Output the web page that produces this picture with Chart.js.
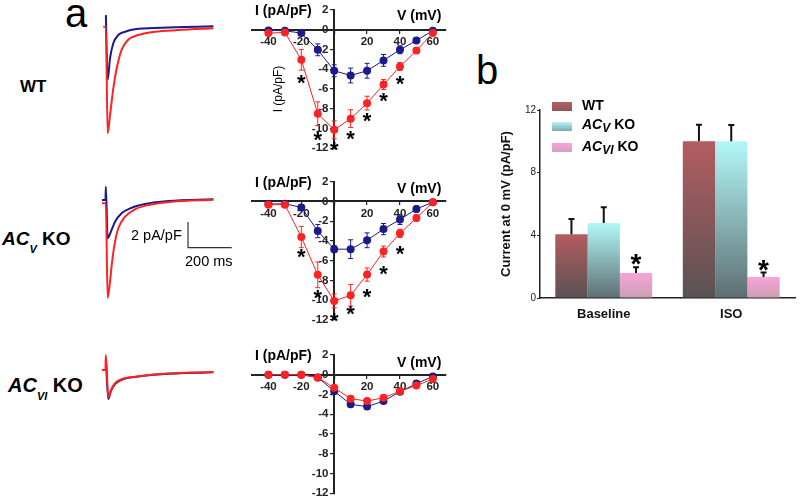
<!DOCTYPE html>
<html><head><meta charset="utf-8">
<script src="https://cdn.jsdelivr.net/npm/chart.js@4.4.1/dist/chart.umd.min.js"></script>
<style>
html,body{margin:0;padding:0;background:#fff;}
#root{position:relative;width:800px;height:502px;overflow:hidden;background:#fff;font-family:'Liberation Sans',Arial,sans-serif;color:#000;}
canvas{position:absolute;}
.t{position:absolute;white-space:nowrap;line-height:1;}
.b{font-weight:bold;}
.sub{position:relative;}
.sw{position:absolute;width:20px;height:9px;}
</style>
</head><body><div id="root">
<canvas id="trWT" style="left:95px;top:5px" width="145" height="140"></canvas>
<canvas id="trACV" style="left:95px;top:180px" width="145" height="125"></canvas>
<canvas id="trACVI" style="left:95px;top:345px" width="125" height="65"></canvas>
<canvas id="iv1" style="left:240px;top:0px" width="210" height="165"></canvas>
<canvas id="iv2" style="left:240px;top:170px" width="210" height="165"></canvas>
<canvas id="iv3" style="left:240px;top:343px" width="210" height="159"></canvas>
<canvas id="bars" style="left:490px;top:95px" width="310" height="235"></canvas>

<div class="t" style="left:65px;top:-7px;font-size:40px;">a</div>
<div class="t" style="left:476px;top:50px;font-size:40px;">b</div>

<div class="t b" style="left:20px;top:78px;font-size:17px;">WT</div>
<div class="t b" style="left:2px;top:229px;font-size:19px;"><i>AC</i><i class="sub" style="font-size:11px;top:8px;">V</i> KO</div>
<div class="t b" style="left:8px;top:375px;font-size:20px;"><i>AC</i><i class="sub" style="font-size:11px;top:8px;">VI</i> KO</div>

<div class="t" style="left:131px;top:228px;font-size:14.5px;">2 pA/pF</div>
<div class="t" style="left:185px;top:254px;font-size:14.5px;">200 ms</div>

<div class="t b" style="left:255px;top:3px;font-size:14px;">I (pA/pF)</div>
<div class="t b" style="left:397px;top:8px;font-size:14px;">V (mV)</div>
<div class="t" style="left:278px;top:89px;font-size:12px;transform:translate(-50%,-50%) rotate(-90deg);">I (pA/pF)</div>
<div class="t b" style="left:255px;top:175px;font-size:14px;">I (pA/pF)</div>
<div class="t b" style="left:397px;top:181px;font-size:14px;">V (mV)</div>
<div class="t b" style="left:255px;top:348px;font-size:14px;">I (pA/pF)</div>
<div class="t b" style="left:397px;top:355px;font-size:14px;">V (mV)</div>

<div class="sw" style="left:552px;top:102px;background:linear-gradient(#b26064,#8c5658);"></div>
<div class="sw" style="left:552px;top:122px;background:linear-gradient(#b4f6f6,#7fa8ae);"></div>
<div class="sw" style="left:552px;top:143px;background:linear-gradient(#f8a6d8,#d2a2bc);"></div>
<div class="t b" style="left:582px;top:98px;font-size:14px;">WT</div>
<div class="t b" style="left:582px;top:117px;font-size:14px;"><i>AC</i><i class="sub" style="font-size:12px;top:2.5px;">V</i> KO</div>
<div class="t b" style="left:582px;top:139px;font-size:14px;"><i>AC</i><i class="sub" style="font-size:12px;top:2.5px;">VI</i> KO</div>
</div>
<script>
// ---------------- data ----------------
// current traces: [time (ms), current (pA/pF)]
const wtTraceRed   = [[-8,0],[4,0],[12,-8.3],[23,-6.9],[38,-4.8],[54,-3.2],[76,-1.8],[107,-1.0],[152,-0.65],[229,-0.39],[336,-0.26],[496,-0.12]];
const wtTraceBlue  = [[4,0.9],[12,-4.15],[23,-2.46],[38,-1.29],[61,-0.65],[92,-0.39],[137,-0.2],[260,-0.08],[496,0.03]];
const acvTraceRed  = [[-14,-0.12],[4,-0.12],[12,-7.5],[23,-6.2],[31,-4.9],[43,-3.4],[61,-2.07],[92,-1.17],[137,-0.59],[198,-0.26],[305,0],[496,0.16]];
const acvTraceBlue = [[-14,0.13],[2,0.13],[4,1.17],[12,-2.85],[27,-2.33],[46,-1.56],[76,-0.9],[122,-0.47],[183,-0.18],[290,0.05],[496,0.19]];
const acviTraceRed = [[-14,0],[2,0],[4,1.17],[15,-2.12],[27,-1.56],[46,-1.03],[76,-0.72],[137,-0.52],[259,-0.31],[496,-0.16]];
const acviTraceBlue= [[4,0.8],[15,-2.26],[27,-1.65],[46,-1.1],[76,-0.76],[137,-0.54],[259,-0.33],[496,-0.17]];
const scaleBar     = [[380,-1.58],[380,-3.58],[580,-3.58]]; // 2 pA/pF, 200 ms

// I-V curves
const ivV = [-40,-30,-20,-10,0,10,20,30,40,50,60];
const ivXTicks = [-40,-20,0,20,40,60];
const ivYTicks = [2,0,-2,-4,-6,-8,-10,-12];
const wtBlue    = [-0.07,-0.1,-0.34,-2.03,-4.15,-4.63,-4.15,-3.1,-2.03,-1.08,-0.1];
const wtBlueErr = [0.05,0.05,0.2,0.6,0.6,0.75,0.75,0.6,0.4,0.25,0.1];
const wtRed     = [-0.34,-0.27,-3.04,-8.5,-10.13,-9.0,-7.43,-5.54,-3.72,-2.1,-0.34];
const wtRedErr  = [0.1,0.1,1.05,1.2,0.9,0.9,0.7,0.5,0.4,0.3,0.15];
const wtStarV   = [-20,-10,0,10,20,30,40];
const wtStarI   = [-5.07,-10.8,-11.8,-10.74,-8.85,-6.86,-5.17];

const acvBlue    = [-0.27,-0.23,-0.6,-3.0,-4.83,-4.83,-3.93,-2.8,-1.83,-0.77,-0.07];
const acvBlueErr = [0.05,0.05,0.2,0.67,0.35,0.95,0.75,0.57,0.5,0.3,0.1];
const acvRed     = [-0.33,-0.33,-3.6,-7.43,-10.07,-9.5,-7.4,-5.07,-3.23,-1.67,-0.07];
const acvRedErr  = [0.1,0.1,1.08,1.3,0.7,1.1,0.67,0.55,0.42,0.3,0.1];
const acvStarV   = [-20,-10,0,10,20,30,40];
const acvStarI   = [-5.27,-9.4,-11.73,-11.0,-9.27,-7.0,-4.93];

const acviBlue    = [0,0,0,-0.27,-1.67,-3.0,-3.23,-2.67,-1.73,-0.9,-0.17];
const acviBlueErr = [0.05,0.05,0.05,0.1,0.25,0.25,0.25,0.2,0.2,0.15,0.1];
const acviRed     = [0,0,0,-0.27,-1.33,-2.43,-2.67,-2.33,-1.67,-1.1,-0.43];
const acviRedErr  = [0.05,0.05,0.05,0.1,0.2,0.25,0.25,0.2,0.2,0.15,0.1];

// bar chart: current at 0 mV
const barCategories = ['Baseline','ISO'];
const barTicks = [0,4,8,12];
const barWT      = [4.07,10.0];
const barWTErr   = [0.98,1.06];
const barACV     = [4.78,10.0];
const barACVErr  = [1.02,1.05];
const barACVI    = [1.59,1.34];
const barACVIErr = [0.38,0.29];
const barACVIStar= [2.48,2.06];

// ---------------- styles ----------------
const FONT = "'Liberation Sans', Arial, sans-serif";
Chart.defaults.font.family = FONT;
const RED = '#ff2222', BLUE = '#1a1a8c';

function drawAsterisk(ctx, x, y, size) {
  ctx.save();
  ctx.fillStyle = '#000';
  ctx.font = 'bold ' + size + 'px ' + FONT;
  ctx.textAlign = 'center';
  ctx.textBaseline = 'alphabetic';
  const m = ctx.measureText('*');
  ctx.fillText('*', x, y + (m.actualBoundingBoxAscent - m.actualBoundingBoxDescent) / 2);
  ctx.restore();
}

const markPlugin = {
  id: 'marks',
  beforeDatasetsDraw(chart) {
    const ctx = chart.ctx;
    chart.data.datasets.forEach((ds, di) => {
      if (!ds.errSym) return;
      const meta = chart.getDatasetMeta(di);
      const ys = chart.scales[meta.yAxisID];
      ctx.save();
      ctx.strokeStyle = ds.borderColor; ctx.lineWidth = 1;
      meta.data.forEach((el, i) => {
        const v = ds.data[i].y, e = ds.errSym[i];
        if (!e) return;
        const y1 = ys.getPixelForValue(v + e), y2 = ys.getPixelForValue(v - e);
        ctx.beginPath();
        ctx.moveTo(el.x, y1); ctx.lineTo(el.x, y2);
        ctx.moveTo(el.x - 2.5, y1); ctx.lineTo(el.x + 2.5, y1);
        ctx.moveTo(el.x - 2.5, y2); ctx.lineTo(el.x + 2.5, y2);
        ctx.stroke();
      });
      ctx.restore();
    });
  },
  afterDatasetsDraw(chart) {
    const ctx = chart.ctx;
    chart.data.datasets.forEach((ds, di) => {
      const meta = chart.getDatasetMeta(di);
      const ys = chart.scales[meta.yAxisID];
      if (ds.errUp) {
        ctx.save();
        ctx.strokeStyle = '#111'; ctx.lineWidth = 2;
        meta.data.forEach((el, i) => {
          const yTop = ys.getPixelForValue(ds.data[i] + ds.errUp[i]);
          ctx.beginPath();
          ctx.moveTo(el.x, el.y); ctx.lineTo(el.x, yTop);
          ctx.moveTo(el.x - 3, yTop); ctx.lineTo(el.x + 3, yTop);
          ctx.stroke();
        });
        ctx.restore();
      }
      if (ds.stars) {
        meta.data.forEach((el, i) => drawAsterisk(ctx, el.x, ys.getPixelForValue(ds.stars[i]), 28));
      }
      if (ds.asterisk) {
        meta.data.forEach(el => drawAsterisk(ctx, el.x, el.y, 22));
      }
    });
  }
};
Chart.register(markPlugin);

// ---------------- traces ----------------
const MS_PER_PX = 200 / 43.7, PA_PER_PX = 2 / 25.7, T0_PX = 105;
function traceChart(id, zeroY, sets) {
  const el = document.getElementById(id);
  const left = parseFloat(el.style.left), top = parseFloat(el.style.top);
  const w = el.width, h = el.height;
  new Chart(el, {
    type: 'scatter',
    data: { datasets: sets.map(s => ({
      data: s.pts.map(p => ({x: p[0], y: p[1]})),
      showLine: true, pointRadius: 0, borderColor: s.color, borderWidth: s.width,
      cubicInterpolationMode: s.smooth ? 'monotone' : 'default', tension: s.smooth ? 0.4 : 0,
      clip: false
    })) },
    options: {
      responsive: false, animation: false, events: [],
      layout: { padding: 0 },
      plugins: { legend: { display: false }, tooltip: { enabled: false } },
      scales: {
        x: { type: 'linear', display: false, min: (left - T0_PX) * MS_PER_PX, max: (left + w - T0_PX) * MS_PER_PX },
        y: { type: 'linear', display: false, min: -(top + h - zeroY) * PA_PER_PX, max: (zeroY - top) * PA_PER_PX }
      }
    }
  });
}
traceChart('trWT', 26.7, [
  {pts: wtTraceRed, color: RED, width: 2, smooth: true},
  {pts: wtTraceBlue, color: BLUE, width: 2, smooth: true}]);
traceChart('trACV', 201.7, [
  {pts: acvTraceRed, color: RED, width: 2, smooth: true},
  {pts: acvTraceBlue, color: BLUE, width: 2, smooth: true},
  {pts: scaleBar, color: '#333', width: 1.2, smooth: false}]);
traceChart('trACVI', 370, [
  {pts: acviTraceRed, color: RED, width: 2, smooth: true},
  {pts: acviTraceBlue, color: BLUE, width: 2, smooth: true}]);

// ---------------- I-V panels ----------------
function ivChart(id, pad, blue, blueErr, red, redErr, starV, starI) {
  const tickFont = { size: 11.5, weight: 'bold' };
  const datasets = [
    { data: ivV.map((v, i) => ({x: v, y: red[i]})), errSym: redErr, showLine: true,
      borderColor: RED, backgroundColor: RED, borderWidth: 1, pointRadius: 4, pointBorderWidth: 0, clip: false },
    { data: ivV.map((v, i) => ({x: v, y: blue[i]})), errSym: blueErr, showLine: true,
      borderColor: BLUE, backgroundColor: BLUE, borderWidth: 1, pointRadius: 4, pointBorderWidth: 0, clip: false }
  ];
  if (starV) datasets.push({ data: starV.map((v, i) => ({x: v, y: starI[i]})), asterisk: true, pointRadius: 0, showLine: false, clip: false });
  new Chart(document.getElementById(id), {
    type: 'scatter',
    data: { datasets },
    options: {
      responsive: false, animation: false, events: [],
      layout: { padding: pad },
      plugins: { legend: { display: false }, tooltip: { enabled: false } },
      scales: {
        x: { type: 'linear', min: -50, max: 68, position: { y: 0 },
          afterBuildTicks: s => { s.ticks = ivXTicks.map(v => ({value: v})); },
          afterFit: s => { s.height = 0; },
          grid: { display: true, drawOnChartArea: false, drawTicks: true, tickLength: 3, color: '#222', lineWidth: 1.2 },
          border: { display: true, color: '#222', width: 2 },
          ticks: { font: tickFont, color: '#222', padding: 2, maxRotation: 0, autoSkip: false,
            callback: v => v === 0 ? '' : String(v) } },
        y: { type: 'linear', min: -12, max: 2, position: { x: 0 },
          afterBuildTicks: s => { s.ticks = ivYTicks.map(v => ({value: v})); },
          afterFit: s => { s.width = 0; },
          grid: { display: true, drawOnChartArea: false, drawTicks: true, tickLength: 3, color: '#222', lineWidth: 1.2 },
          border: { display: true, color: '#222', width: 2 },
          ticks: { font: tickFont, color: '#222', padding: 2, autoSkip: false, callback: v => String(v) + '\u2002' } }
      }
    }
  });
}
ivChart('iv1', {left: 12, right: 3, top: 10, bottom: 16.7}, wtBlue, wtBlueErr, wtRed, wtRedErr, wtStarV, wtStarI);
ivChart('iv2', {left: 12, right: 3, top: 11.7, bottom: 15}, acvBlue, acvBlueErr, acvRed, acvRedErr, acvStarV, acvStarI);
ivChart('iv3', {left: 12, right: 3, top: 12, bottom: 7}, acviBlue, acviBlueErr, acviRed, acviRedErr, null, null);

// ---------------- bar chart ----------------
function barGrad(topC, botC) {
  return (c) => {
    const chart = c.chart;
    if (!chart.chartArea || c.type !== 'data') return topC;
    const ys = chart.scales.y;
    const g = chart.ctx.createLinearGradient(0, ys.getPixelForValue(c.raw), 0, ys.getPixelForValue(0));
    g.addColorStop(0, topC); g.addColorStop(1, botC);
    return g;
  };
}
new Chart(document.getElementById('bars'), {
  type: 'bar',
  data: {
    labels: barCategories,
    datasets: [
      { label: 'WT', data: barWT, errUp: barWTErr, backgroundColor: barGrad('#b35c60', '#5a5254') },
      { label: 'ACV KO', data: barACV, errUp: barACVErr, backgroundColor: barGrad('#b2f8f8', '#5e6e72') },
      { label: 'ACVI KO', data: barACVI, errUp: barACVIErr, stars: barACVIStar, backgroundColor: barGrad('#f8a4d8', '#caa0b4') }
    ]
  },
  options: {
    responsive: false, animation: false, events: [],
    layout: { padding: { top: 15, right: 5, left: 0, bottom: 2 } },
    datasets: { bar: { categoryPercentage: 0.76, barPercentage: 1.0 } },
    plugins: { legend: { display: false }, tooltip: { enabled: false } },
    scales: {
      x: { afterFit: s => { s.height = 30; },
        grid: { display: false, drawTicks: false },
        border: { display: true, color: '#222', width: 1.5 },
        ticks: { font: { size: 13, weight: 'bold' }, color: '#111', padding: 9 } },
      y: { min: 0, max: 12, afterFit: s => { s.width = 50; },
        afterBuildTicks: s => { s.ticks = barTicks.map(v => ({value: v})); },
        grid: { display: true, drawOnChartArea: false, drawTicks: true, tickLength: 3, color: '#222' },
        border: { display: true, color: '#222', width: 1.5 },
        ticks: { font: { size: 10 }, color: '#222', padding: 1 },
        title: { display: true, text: 'Current at 0 mV (pA/pF)', font: { size: 13, weight: 'bold' }, color: '#111', padding: { top: 9, bottom: 0 } } }
    }
  }
});
</script>
</body></html>
